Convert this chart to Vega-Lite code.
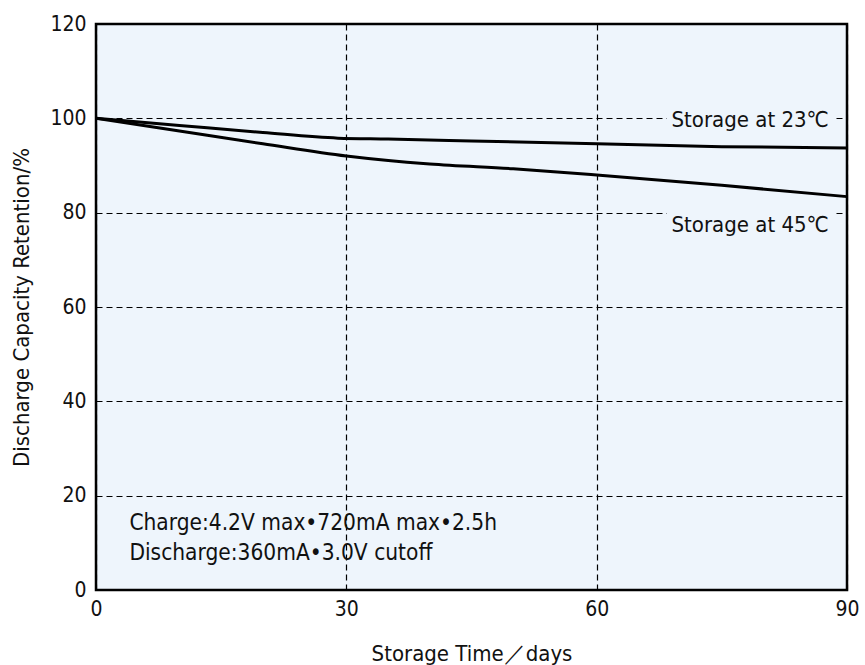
{
  "$schema": "https://vega.github.io/schema/vega-lite/v6.json",
  "width": 751,
  "height": 566,
  "autosize": {"type": "none"},
  "padding": {"left": 96, "top": 24, "right": 18, "bottom": 75},
  "background": "white",
  "config": {
    "view": {"fill": "#eef5fc", "stroke": "black", "strokeWidth": 2.5},
    "font": "DejaVu Sans Condensed, Liberation Sans, sans-serif",
    "axis": {
      "labelFont": "DejaVu Sans Condensed, Liberation Sans, sans-serif",
      "titleFont": "DejaVu Sans Condensed, Liberation Sans, sans-serif",
      "labelFontSize": 21,
      "titleFontSize": 22,
      "titleFontWeight": "normal",
      "labelColor": "#111",
      "titleColor": "#111",
      "domain": false,
      "ticks": false,
      "gridColor": "black",
      "gridDash": [6, 4],
      "gridWidth": 1.2,
      "gridOpacity": 1
    }
  },
  "datasets": {
    "lines": [
      {"day": 0, "value": 100, "series": "23"},
      {"day": 10, "value": 98.5, "series": "23"},
      {"day": 20, "value": 97.0, "series": "23"},
      {"day": 29, "value": 95.8, "series": "23"},
      {"day": 35, "value": 95.6, "series": "23"},
      {"day": 45, "value": 95.2, "series": "23"},
      {"day": 60, "value": 94.6, "series": "23"},
      {"day": 75, "value": 94.0, "series": "23"},
      {"day": 90, "value": 93.7, "series": "23"},
      {"day": 0, "value": 100, "series": "45"},
      {"day": 10, "value": 97.3, "series": "45"},
      {"day": 20, "value": 94.6, "series": "45"},
      {"day": 30, "value": 92.0, "series": "45"},
      {"day": 40, "value": 90.3, "series": "45"},
      {"day": 50, "value": 89.3, "series": "45"},
      {"day": 60, "value": 88.0, "series": "45"},
      {"day": 75, "value": 85.8, "series": "45"},
      {"day": 90, "value": 83.4, "series": "45"}
    ],
    "labels": [
      {"day": 78.4, "value": 99.6, "x1": 68.4, "x2": 88.6, "y1": 97.4, "y2": 101.8, "text": "Storage at 23℃"},
      {"day": 78.4, "value": 77.4, "x1": 68.4, "x2": 88.6, "y1": 75.2, "y2": 81.6, "text": "Storage at 45℃"}
    ],
    "notes": [
      {"day": 4.0, "value": 14.2, "text": "Charge:4.2V max•720mA max•2.5h"},
      {"day": 4.0, "value": 7.8, "text": "Discharge:360mA•3.0V cutoff"}
    ]
  },
  "layer": [
    {
      "data": {"name": "labels"},
      "mark": {"type": "rect", "fill": "#eef5fc"},
      "encoding": {
        "x": {"field": "x1", "type": "quantitative", "scale": {"domain": [0, 90]},
          "axis": {"values": [0, 30, 60, 90], "gridColor": "black", "title": "Storage Time／days", "labelPadding": 8, "titlePadding": 24, "labelFlush": false}},
        "x2": {"field": "x2"},
        "y": {"field": "y1", "type": "quantitative", "scale": {"domain": [0, 120]},
          "axis": {"values": [0, 20, 40, 60, 80, 100, 120], "title": "Discharge Capacity Retention/%", "labelPadding": 10, "titlePadding": 16, "labelFlush": false}},
        "y2": {"field": "y2"}
      }
    },
    {
      "data": {"name": "lines"},
      "mark": {"type": "line", "color": "black", "strokeWidth": 3, "interpolate": "monotone"},
      "encoding": {
        "x": {"field": "day", "type": "quantitative"},
        "y": {"field": "value", "type": "quantitative"},
        "detail": {"field": "series"}
      }
    },
    {
      "data": {"name": "labels"},
      "mark": {"type": "text", "fontSize": 22, "color": "#111", "align": "center", "baseline": "middle"},
      "encoding": {
        "x": {"field": "day", "type": "quantitative"},
        "y": {"field": "value", "type": "quantitative"},
        "text": {"field": "text"}
      }
    },
    {
      "data": {"name": "notes"},
      "mark": {"type": "text", "fontSize": 22.5, "color": "#111", "align": "left", "baseline": "middle"},
      "encoding": {
        "x": {"field": "day", "type": "quantitative"},
        "y": {"field": "value", "type": "quantitative"},
        "text": {"field": "text"}
      }
    }
  ]
}
